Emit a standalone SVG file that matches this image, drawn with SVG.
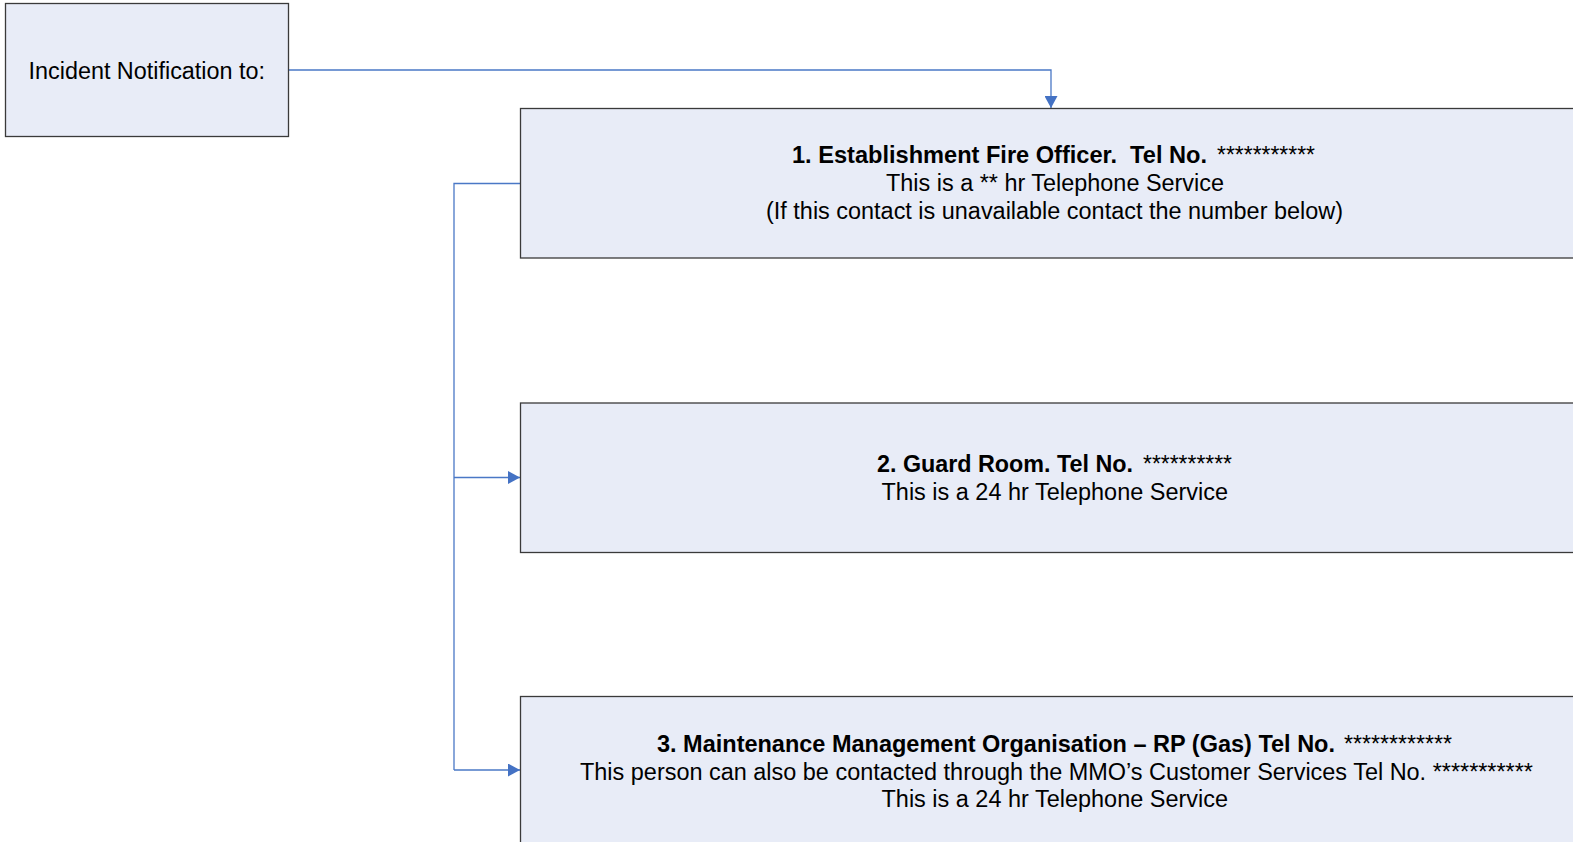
<svg xmlns="http://www.w3.org/2000/svg" width="1573" height="842" viewBox="0 0 1573 842">
  <style>
    .box { fill: #E8ECF7; stroke: #3a3a3a; stroke-width: 1.3; }
    .link { fill: none; stroke: #4A78C6; stroke-width: 1.3; }
    text { font-family: "Liberation Sans", Arial, sans-serif; font-size: 23.5px; fill: #000; }
    .b { font-weight: bold; }
  </style>
  <defs>
    <marker id="arrow" markerWidth="12" markerHeight="13" refX="12" refY="6.5" orient="auto" markerUnits="userSpaceOnUse">
      <path d="M0,0 L12,6.5 L0,13 Z" fill="#4472C4"/>
    </marker>
  </defs>
  <rect width="1573" height="842" fill="#ffffff"/>

  <g id="connectors">
    <path class="link" d="M288,70 H1051 V108" marker-end="url(#arrow)"/>
    <path class="link" d="M520,183.5 H454 V770"/>
    <path class="link" d="M454,477.5 H520" marker-end="url(#arrow)"/>
    <path class="link" d="M454,770 H520" marker-end="url(#arrow)"/>
  </g>

  <g id="incident">
    <rect class="box" x="5.5" y="3.5" width="283" height="133"/>
    <text x="28.5" y="78.5" textLength="236.5" lengthAdjust="spacingAndGlyphs">Incident Notification to:</text>
  </g>

  <g id="fire-officer">
    <rect class="box" x="520.5" y="108.5" width="1080" height="149.5"/>
    <text class="b" x="792" y="163" xml:space="preserve" textLength="415" lengthAdjust="spacingAndGlyphs">1. Establishment Fire Officer.  Tel No.</text>
    <text x="1217" y="163" textLength="98" lengthAdjust="spacingAndGlyphs">***********</text>
    <text x="886" y="191" textLength="338" lengthAdjust="spacingAndGlyphs">This is a ** hr Telephone Service</text>
    <text x="766" y="218.5" textLength="577" lengthAdjust="spacingAndGlyphs">(If this contact is unavailable contact the number below)</text>
  </g>

  <g id="guard-room">
    <rect class="box" x="520.5" y="403" width="1080" height="149.5"/>
    <text class="b" x="877" y="471.5" textLength="256" lengthAdjust="spacingAndGlyphs">2. Guard Room. Tel No.</text>
    <text x="1143" y="471.5" textLength="89" lengthAdjust="spacingAndGlyphs">**********</text>
    <text x="881.5" y="499.5" textLength="346.5" lengthAdjust="spacingAndGlyphs">This is a 24 hr Telephone Service</text>
  </g>

  <g id="maintenance">
    <rect class="box" x="520.5" y="696.5" width="1080" height="160"/>
    <text class="b" x="657" y="751.5" textLength="678" lengthAdjust="spacingAndGlyphs">3. Maintenance Management Organisation – RP (Gas) Tel No.</text>
    <text x="1344" y="751.5" textLength="108" lengthAdjust="spacingAndGlyphs">************</text>
    <text x="580" y="780" textLength="953" lengthAdjust="spacingAndGlyphs">This person can also be contacted through the MMO’s Customer Services Tel No. ***********</text>
    <text x="881.5" y="807" textLength="346.5" lengthAdjust="spacingAndGlyphs">This is a 24 hr Telephone Service</text>
  </g>
</svg>
